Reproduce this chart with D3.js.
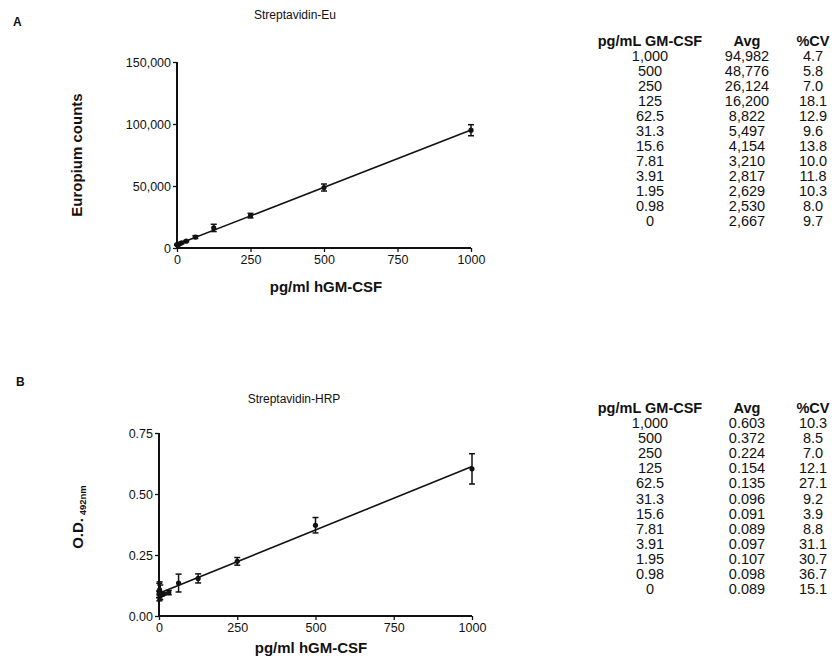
<!DOCTYPE html>
<html>
<head>
<meta charset="utf-8">
<script src="https://cdn.jsdelivr.net/npm/d3@7"></script>
<style>
  body { margin: 0; background: #fff; }
  svg { font-family: "Liberation Sans", Arial, sans-serif; }
  .axis path, .axis line { stroke: #111; }
  .axis text { fill: #111; font-size: 12.5px; font-family: "Liberation Sans", Arial, sans-serif; }
</style>
</head>
<body>
<div id="vis"></div>
<script>
// concentrations (pg/mL GM-CSF), shared by both panels
var concLabels = ["1,000", "500", "250", "125", "62.5", "31.3", "15.6", "7.81", "3.91", "1.95", "0.98", "0"];
var conc = [1000, 500, 250, 125, 62.5, 31.3, 15.6, 7.81, 3.91, 1.95, 0.98, 0];

// panel A : Streptavidin-Eu
var avgEu = [94982, 48776, 26124, 16200, 8822, 5497, 4154, 3210, 2817, 2629, 2530, 2667];
var avgEuLabels = ["94,982", "48,776", "26,124", "16,200", "8,822", "5,497", "4,154", "3,210", "2,817", "2,629", "2,530", "2,667"];
var cvEu = [4.7, 5.8, 7.0, 18.1, 12.9, 9.6, 13.8, 10.0, 11.8, 10.3, 8.0, 9.7];
var cvEuLabels = ["4.7", "5.8", "7.0", "18.1", "12.9", "9.6", "13.8", "10.0", "11.8", "10.3", "8.0", "9.7"];

// panel B : Streptavidin-HRP
var avgHrp = [0.603, 0.372, 0.224, 0.154, 0.135, 0.096, 0.091, 0.089, 0.097, 0.107, 0.098, 0.089];
var avgHrpLabels = ["0.603", "0.372", "0.224", "0.154", "0.135", "0.096", "0.091", "0.089", "0.097", "0.107", "0.098", "0.089"];
var cvHrp = [10.3, 8.5, 7.0, 12.1, 27.1, 9.2, 3.9, 8.8, 31.1, 30.7, 36.7, 15.1];
var cvHrpLabels = ["10.3", "8.5", "7.0", "12.1", "27.1", "9.2", "3.9", "8.8", "31.1", "30.7", "36.7", "15.1"];

var xTicks = [0, 250, 500, 750, 1000];
var yTicksEu = [0, 50000, 100000, 150000];
var yTicksHrp = [0, 0.25, 0.5, 0.75];

var width = 835, height = 662;
var ink = "#111";

var svg = d3.select("#vis").append("svg")
	.attr("width", width)
	.attr("height", height);
svg.append("rect").attr("width", width).attr("height", height).attr("fill", "#fff");

// least squares fit for the standard curve
function fit(xs, ys) {
	var mx = d3.mean(xs), my = d3.mean(ys);
	var sxy = d3.sum(xs, function (v, i) { return (v - mx) * (ys[i] - my); });
	var sxx = d3.sum(xs, function (v) { return (v - mx) * (v - mx); });
	var b = sxy / sxx;
	return { a: my - b * mx, b: b };
}

function drawPanel(p) {
	var x = d3.scaleLinear().domain([0, 1000]).range(p.xRange);
	var y = d3.scaleLinear().domain(p.yDomain).range(p.yRange);
	var g = svg.append("g");

	// panel letter + title
	g.append("text").attr("x", p.letterX).attr("y", p.letterY)
		.attr("font-size", 12).attr("font-weight", "bold").attr("fill", ink).text(p.letter);
	g.append("text").attr("x", p.titleX).attr("y", p.titleY)
		.attr("text-anchor", "middle").attr("font-size", 12).attr("fill", ink).text(p.title);

	// axes
	var xAxis = g.append("g").attr("class", "axis")
		.attr("transform", "translate(0," + p.yRange[0] + ")")
		.call(d3.axisBottom(x).tickValues(xTicks).tickSize(4).tickPadding(3).tickFormat(d3.format("d")));
	var yAxis = g.append("g").attr("class", "axis")
		.attr("transform", "translate(" + p.xRange[0] + ",0)")
		.call(d3.axisLeft(y).tickValues(p.yTicks).tickSize(4).tickPadding(2).tickFormat(p.yFormat));
	[xAxis, yAxis].forEach(function (ax) {
		ax.select(".domain").attr("stroke-width", 2).attr("d",
			ax === xAxis ? "M" + p.xRange[0] + ",0H" + p.xRange[1] : "M0," + p.yRange[0] + "V" + p.yRange[1]);
		ax.selectAll(".tick line").attr("stroke-width", 1.3);
	});

	// axis titles
	g.append("text").attr("x", p.xLabelX).attr("y", p.xLabelY)
		.attr("text-anchor", "middle").attr("font-size", 15).attr("font-weight", "bold")
		.attr("fill", ink).text("pg/ml hGM-CSF");
	var yl = g.append("text")
		.attr("transform", "translate(" + p.yLabelX + "," + p.yLabelY + ") rotate(-90)")
		.attr("text-anchor", "middle").attr("font-size", 15).attr("font-weight", "bold").attr("fill", ink);
	yl.append("tspan").text(p.yLabel);
	if (p.ySub) {
		yl.append("tspan").attr("font-size", 9.5).attr("dy", 3).text(" " + p.ySub);
	}

	// fitted line
	var f = fit(conc, p.avg);
	g.append("line")
		.attr("x1", x(0)).attr("y1", y(f.a))
		.attr("x2", x(1000)).attr("y2", y(f.a + f.b * 1000))
		.attr("stroke", ink).attr("stroke-width", 1.6);

	// error bars (± SD from %CV) and points
	var pts = conc.map(function (c, i) {
		return { c: c, v: p.avg[i], sd: p.avg[i] * p.cv[i] / 100 };
	});
	var eb = g.selectAll(".eb").data(pts).enter().append("g").attr("class", "eb");
	eb.append("line")
		.attr("x1", function (d) { return x(d.c); }).attr("x2", function (d) { return x(d.c); })
		.attr("y1", function (d) { return y(d.v - d.sd); }).attr("y2", function (d) { return y(d.v + d.sd); })
		.attr("stroke", ink).attr("stroke-width", 1.5);
	[-1, 1].forEach(function (s) {
		eb.append("line")
			.attr("x1", function (d) { return x(d.c) - 3; }).attr("x2", function (d) { return x(d.c) + 3; })
			.attr("y1", function (d) { return y(d.v + s * d.sd); }).attr("y2", function (d) { return y(d.v + s * d.sd); })
			.attr("stroke", ink).attr("stroke-width", 1.5);
	});
	g.selectAll(".pt").data(pts).enter().append("circle")
		.attr("cx", function (d) { return x(d.c); })
		.attr("cy", function (d) { return y(d.v); })
		.attr("r", 2.6).attr("fill", ink);

	// data table
	var cols = [
		{ x: 650, head: "pg/mL GM-CSF", vals: concLabels },
		{ x: 747, head: "Avg", vals: p.avgLabels },
		{ x: 813, head: "%CV", vals: p.cvLabels }
	];
	cols.forEach(function (col) {
		g.append("text").attr("x", col.x).attr("y", p.tableY)
			.attr("text-anchor", "middle").attr("font-size", 14.5).attr("font-weight", "bold")
			.attr("fill", ink).text(col.head);
		g.selectAll(null).data(col.vals).enter().append("text")
			.attr("x", col.x)
			.attr("y", function (d, i) { return p.tableY + 15 + i * p.rowStep; })
			.attr("text-anchor", "middle").attr("font-size", 14.5).attr("fill", ink)
			.text(function (d) { return d; });
	});
}

drawPanel({
	letter: "A", letterX: 13, letterY: 26,
	title: "Streptavidin-Eu", titleX: 295, titleY: 19,
	xRange: [177, 471], yRange: [248, 62], yDomain: [0, 150000],
	yTicks: yTicksEu, yFormat: d3.format(","),
	xLabelX: 326, xLabelY: 292,
	yLabel: "Europium counts", ySub: null, yLabelX: 82, yLabelY: 155,
	avg: avgEu, cv: cvEu, avgLabels: avgEuLabels, cvLabels: cvEuLabels,
	tableY: 46, rowStep: 15
});

drawPanel({
	letter: "B", letterX: 16, letterY: 386,
	title: "Streptavidin-HRP", titleX: 294, titleY: 403,
	xRange: [159, 472], yRange: [616, 433], yDomain: [0, 0.75],
	yTicks: yTicksHrp, yFormat: d3.format(".2f"),
	xLabelX: 311, xLabelY: 653,
	yLabel: "O.D.", ySub: "492nm", yLabelX: 83, yLabelY: 517,
	avg: avgHrp, cv: cvHrp, avgLabels: avgHrpLabels, cvLabels: cvHrpLabels,
	tableY: 413, rowStep: 15.1
});
</script>
</body>
</html>
